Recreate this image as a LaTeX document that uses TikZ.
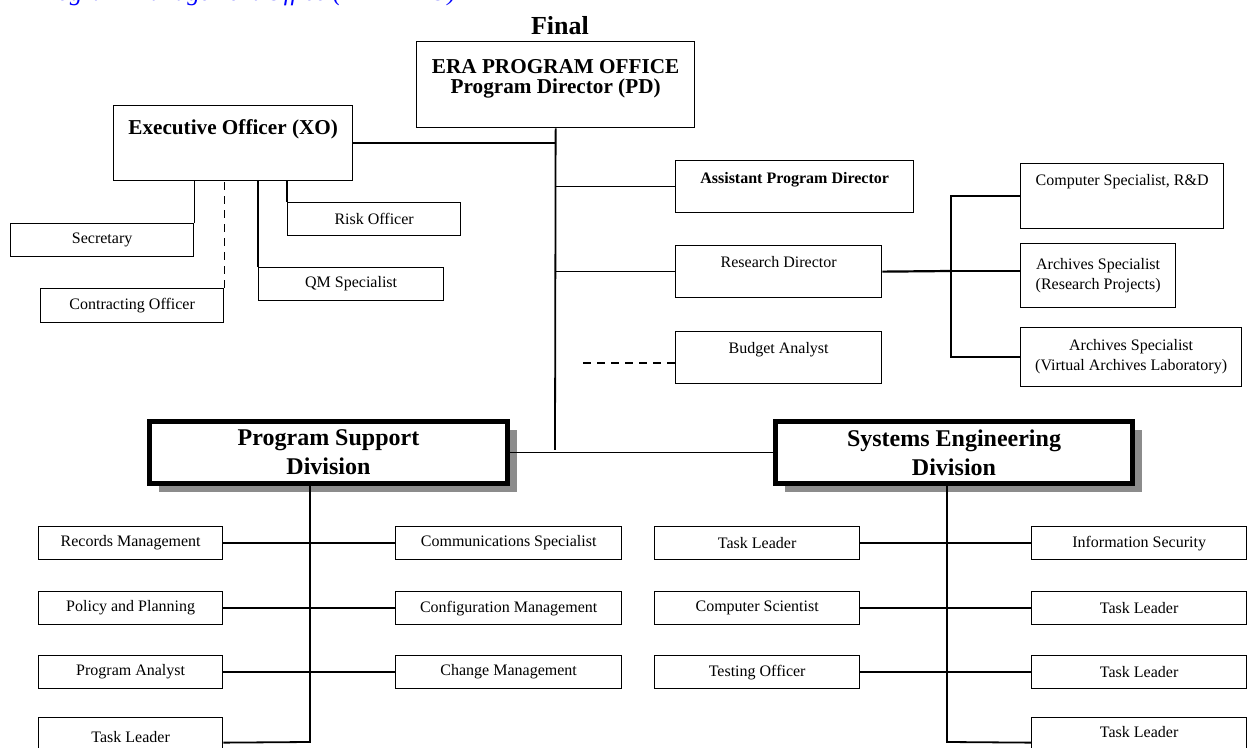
\documentclass[tikz,border=0pt]{standalone}
\usepackage{fontspec}
\setmainfont{Liberation Serif}
\usepackage{tikz}
\usetikzlibrary{shadows}

\begin{document}
\begin{tikzpicture}[x=0.5pt, y=-0.5pt,
    post/.style={draw, line width=0.65pt, inner sep=0pt, anchor=north west, align=center, font=\fontsize{8}{10}\selectfont},
    head post/.style={post, font=\bfseries\fontsize{10.6}{10}\selectfont},
    division/.style={draw, fill=white, line width=2.5pt, inner sep=0pt, anchor=north west, align=center,
        font=\bfseries\fontsize{12}{14.5}\selectfont,
        drop shadow={shadow xshift=4.5pt, shadow yshift=-4.5pt, fill=black!45, opacity=1}},
    link/.style={line width=0.65pt},
    dashlink/.style={line width=0.65pt, dash pattern=on 4pt off 3pt},
    trunk/.style={line width=0.9pt}]
    \useasboundingbox (0,0) rectangle (1249,748);

    % title lines
    \node[anchor=base east, text=blue, font=\itshape\fontsize{12.5}{14}\selectfont] (pmo) at (463,1) {Program Management Office (ERA PMO)};
    \node[font=\bfseries\fontsize{13}{15}\selectfont] (final) at (560,26) {Final};

    % front office
    \node[head post, minimum width=139pt, text height=26pt, text depth=17pt] (pd) at (416,41) {ERA PROGRAM OFFICE\\Program Director (PD)};
    \node[head post, minimum width=119.5pt, text height=14.5pt, text depth=23pt] (xo) at (113,105) {Executive Officer (XO)};
    \node[post, font=\bfseries\fontsize{8}{10}\selectfont, minimum width=119pt, text height=11.5pt, text depth=14.5pt] (apd) at (675,160) {Assistant Program Director};
    \node[post, minimum width=103pt, text height=11pt, text depth=15pt] (rd) at (675,245) {Research Director};
    \node[post, minimum width=103pt, text height=11pt, text depth=15pt] (budget) at (675,331) {Budget Analyst};
    \node[post, minimum width=101.5pt, text height=11pt, text depth=21.5pt] (csrd) at (1020,163) {Computer Specialist, R\&D};
    \node[post, minimum width=77.5pt, minimum height=32pt] (asrp) at (1020,243) {Archives Specialist\\(Research Projects)};
    \node[post, minimum width=110.5pt, minimum height=29.5pt] (asval) at (1020,327) {Archives Specialist\\(Virtual Archives Laboratory)};

    % XO staff
    \node[post, minimum width=91.5pt, minimum height=16.5pt] (secr) at (10,223) {Secretary};
    \node[post, minimum width=91.5pt, minimum height=17pt] (contr) at (40,288) {Contracting Officer};
    \node[post, minimum width=92.5pt, minimum height=16.5pt] (qm) at (258,267) {QM Specialist};
    \node[post, minimum width=86.5pt, minimum height=16.5pt] (risk) at (287,202) {Risk Officer};

    % divisions
    \node[division, minimum width=179pt, minimum height=31pt] (psd) at (147,419) {Program Support\\Division};
    \node[division, minimum width=178.5pt, minimum height=31pt] (sed) at (773,419) {Systems Engineering\\Division};

    % program support staff
    \node[post, minimum width=92pt, minimum height=16.5pt] (recm) at (38,526) {Records Management};
    \node[post, minimum width=92pt, minimum height=16.5pt] (polp) at (38,591) {Policy and Planning};
    \node[post, minimum width=92pt, minimum height=16.5pt] (proga) at (38,655) {Program Analyst};
    \node[post, minimum width=92pt, text height=12.5pt, text depth=12.5pt] (tlps) at (38,717) {Task Leader};
    \node[post, minimum width=113pt, minimum height=16.5pt] (comms) at (395,526) {Communications Specialist};
    \node[post, minimum width=113pt, minimum height=16.5pt] (confm) at (395,591) {Configuration Management};
    \node[post, minimum width=113pt, minimum height=16.5pt] (chgm) at (395,655) {Change Management};

    % systems engineering staff
    \node[post, minimum width=102.5pt, minimum height=16.5pt] (tlse1) at (654,526) {Task Leader};
    \node[post, minimum width=102.5pt, minimum height=16.5pt] (compsci) at (654,591) {Computer Scientist};
    \node[post, minimum width=102.5pt, minimum height=16.5pt] (testo) at (654,655) {Testing Officer};
    \node[post, minimum width=107.5pt, minimum height=16.5pt] (infosec) at (1031,526) {Information Security};
    \node[post, minimum width=107.5pt, minimum height=16.5pt] (tlse2) at (1031,591) {Task Leader};
    \node[post, minimum width=107.5pt, minimum height=16.5pt] (tlse3) at (1031,655) {Task Leader};
    \node[post, minimum width=107.5pt, text height=10pt, text depth=15pt] (tlse4) at (1031,717) {Task Leader};

    \coordinate (hub) at (555,450);
    \coordinate (rdfork) at (951,271);
    \coordinate (bafree) at (583,363);
    \coordinate (psdbus) at (310,742);
    \coordinate (sedbus) at (947,742);

    % connectors
    \draw[trunk] (pd.south) -- (hub);
    \draw[link] (psd.east) -- (sed.west);
    \draw[link] (xo.east) -- (xo.east -| pd.south);
    \draw[link] (apd.west -| pd.south) -- (apd.west);
    \draw[link] (rd.west -| pd.south) -- (rd.west);
    \draw[dashlink] (bafree) -- (bafree -| budget.west);
    \draw[line width=1.1pt] (rd.east) -- (rdfork);
    \draw[link] (csrd.west) -- (csrd.west -| rdfork) -- (asval.west -| rdfork) -- (asval.west);
    \draw[link] (rdfork) -- (rdfork -| asrp.west);

    \draw[link] (secr.north east) -- (secr.north east |- xo.south);
    \draw[dashlink] (contr.north east) -- (contr.north east |- xo.south);
    \draw[link] (qm.north west) -- (qm.north west |- xo.south);
    \draw[link] (risk.north west) -- (risk.north west |- xo.south);

    \draw[trunk] (psdbus |- psd.south) -- (psdbus) -- (tlps.east);
    \draw[link] (recm.east) -- (comms.west);
    \draw[link] (polp.east) -- (confm.west);
    \draw[link] (proga.east) -- (chgm.west);

    \draw[trunk] (sedbus |- sed.south) -- (sedbus) -- (tlse4.west);
    \draw[link] (tlse1.east) -- (infosec.west);
    \draw[link] (compsci.east) -- (tlse2.west);
    \draw[link] (testo.east) -- (tlse3.west);
\end{tikzpicture}
\end{document}
